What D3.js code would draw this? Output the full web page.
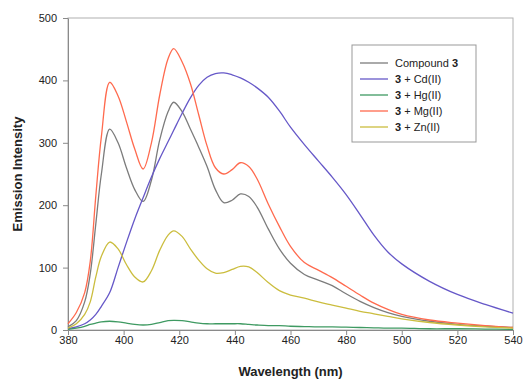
<!DOCTYPE html>
<html lang="en">
<head>
	<meta charset="UTF-8">
	<title>Emission spectra</title>
	<script src="https://cdn.jsdelivr.net/npm/d3@7"></script>
	<style>
		body { margin: 0; background: #fff; }
		svg text { font-family: "Liberation Sans", Arial, sans-serif; fill: #222; }
		.axis path, .axis line { stroke: #8a8a8a; }
	</style>
</head>
<body>
<div id="viz"></div>
<script>
// wavelength grid (nm)
var wavelength = [380, 383, 386, 388, 390, 392, 395, 398, 401, 404, 407, 410, 413, 416, 418, 421, 424, 427, 430, 433,
	436, 439, 442, 445, 448, 452, 456, 460, 465, 470, 475, 480, 485, 490, 495, 500, 510, 520, 530, 540];

var compound3 = [5, 15, 45, 90, 170, 250, 322, 300, 260, 225, 206, 240, 305, 350, 365, 350, 322, 293, 262, 225,
	204, 208, 218, 214, 197, 162, 130, 107, 89, 80, 71, 58, 46, 36, 28, 22, 14, 9, 6, 4];
var cd = [2, 5, 10, 16, 25, 38, 60, 100, 140, 178, 212, 245, 275, 302, 320, 347, 372, 392, 405, 411,
	412, 409, 404, 397, 388, 373, 351, 325, 297, 271, 245, 217, 185, 152, 125, 106, 78, 57, 41, 27];
var hg = [1, 3, 6, 9, 11, 13, 14, 13, 11, 9, 8, 9, 12, 15, 15.5, 15, 13, 11, 10, 10,
	10, 10, 10, 9, 8, 7, 7, 6, 5.5, 5, 5, 4.5, 4, 3.5, 3, 3, 2, 2, 1.5, 1];
var mg = [10, 28, 60, 110, 215, 310, 397, 375, 334, 290, 258, 300, 377, 435, 451, 430, 395, 345, 295, 260,
	250, 257, 268, 262, 242, 202, 166, 134, 108, 96, 84, 70, 56, 43, 33, 25, 16, 11, 7, 4];
var zn = [3, 10, 25, 45, 85, 118, 141, 130, 105, 85, 77, 95, 128, 152, 159, 150, 130, 112, 98, 91,
	92, 97, 102, 101, 92, 76, 63, 56, 51, 45, 40, 35, 30, 26, 22, 18, 12, 8, 5, 3];

var seriesNames = ['Compound 3', '3 + Cd(II)', '3 + Hg(II)', '3 + Mg(II)', '3 + Zn(II)'];
var seriesValues = [compound3, cd, hg, mg, zn];
var colors = ['#7c7c7c', '#6658c8', '#3f9a62', '#ff6a4e', '#cbbd3e'];

var xTicks = [380, 400, 420, 440, 460, 480, 500, 520, 540];
var yTicks = [0, 100, 200, 300, 400, 500];

var W = 523, H = 381;
var margin = {top: 18, left: 68, bottom: 51, right: 10};
var width = W - margin.left - margin.right;
var height = H - margin.top - margin.bottom;

var svg = d3.select('#viz').append('svg')
	.attr('width', W)
	.attr('height', H);

var g = svg.append('g')
	.attr('transform', 'translate(' + margin.left + ',' + margin.top + ')');

var x = d3.scaleLinear().domain([380, 540]).range([0, width]);
var y = d3.scaleLinear().domain([0, 500]).range([height, 0]);

// plot frame
g.append('rect')
	.attr('width', width)
	.attr('height', height)
	.attr('fill', 'none')
	.attr('stroke', '#b0b0b0');

var gx = g.append('g')
	.attr('class', 'axis')
	.attr('transform', 'translate(0,' + height + ')')
	.call(d3.axisBottom(x).tickValues(xTicks).tickSize(5).tickPadding(1).tickSizeOuter(0));

var gy = g.append('g')
	.attr('class', 'axis')
	.call(d3.axisLeft(y).tickValues(yTicks).tickSize(5).tickPadding(6).tickSizeOuter(0));

svg.selectAll('.axis text').style('font-size', '11px');

var line = d3.line()
	.x(function (d, i) { return x(wavelength[i]); })
	.y(function (d) { return y(d); })
	.curve(d3.curveCatmullRom.alpha(0.5));

g.selectAll('.series')
	.data(seriesValues)
	.enter().append('path')
	.attr('class', 'series')
	.attr('fill', 'none')
	.attr('stroke-width', 1.3)
	.attr('stroke', function (d, i) { return colors[i]; })
	.attr('d', line);

// axis titles
svg.append('text')
	.attr('x', margin.left + width / 2)
	.attr('y', 376)
	.attr('text-anchor', 'middle')
	.style('font-size', '13px')
	.style('font-weight', 'bold')
	.text('Wavelength (nm)');

svg.append('text')
	.attr('transform', 'translate(22,' + (margin.top + height / 2) + ') rotate(-90)')
	.attr('text-anchor', 'middle')
	.style('font-size', '13px')
	.style('font-weight', 'bold')
	.text('Emission Intensity');

// legend
var legend = svg.append('g').attr('transform', 'translate(352,45)');
legend.append('rect')
	.attr('width', 124)
	.attr('height', 97)
	.attr('fill', '#fff')
	.attr('stroke', '#999');

var items = legend.selectAll('.item')
	.data(seriesNames)
	.enter().append('g')
	.attr('transform', function (d, i) { return 'translate(0,' + (18 + i * 16) + ')'; });

items.append('line')
	.attr('x1', 8).attr('x2', 36)
	.attr('stroke-width', 1.3)
	.attr('stroke', function (d, i) { return colors[i]; });

items.append('text')
	.attr('x', 43)
	.attr('dy', '0.35em')
	.style('font-size', '11px')
	.each(function (d) {
		var t = d3.select(this);
		if (d.indexOf('Compound') === 0) {
			t.append('tspan').text('Compound ');
			t.append('tspan').style('font-weight', 'bold').text('3');
		} else {
			t.append('tspan').style('font-weight', 'bold').text('3');
			t.append('tspan').text(d.slice(1));
		}
	});
</script>
</body>
</html>
